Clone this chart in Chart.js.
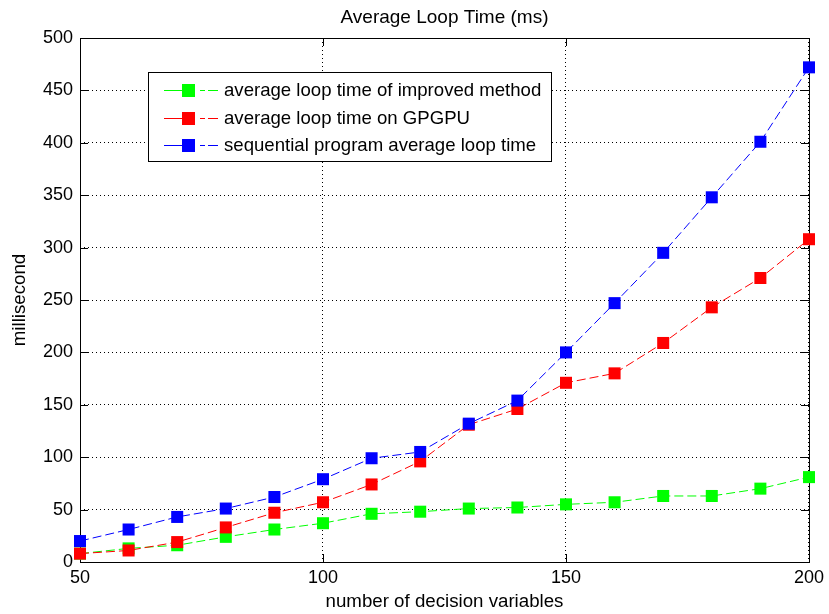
<!DOCTYPE html>
<html>
<head>
<meta charset="utf-8">
<script src="https://cdn.jsdelivr.net/npm/chart.js@4"></script>
<style>
  html, body { margin: 0; padding: 0; background: #fff; }
</style>
</head>
<body>
<canvas id="chart" width="829" height="614"></canvas>
<script>
// Data
const xValues = [50, 60, 70, 80, 90, 100, 110, 120, 130, 140, 150, 160, 170, 180, 190, 200];
const improvedTimes = [8, 13, 16, 24, 31, 37, 46, 48, 51, 52, 55, 57, 63, 63, 70, 81];
const gpgpuTimes = [8, 11, 19, 33, 47, 57, 74, 96, 131, 146, 171, 180, 209, 243, 271, 308];
const sequentialTimes = [20, 31, 43, 51, 62, 79, 99, 105, 132, 154, 200, 247, 295, 348, 401, 472];
const xTicks = [50, 100, 150, 200];
const yTicks = [0, 50, 100, 150, 200, 250, 300, 350, 400, 450, 500];

const FONT = '"Liberation Sans", Arial, sans-serif';
Chart.defaults.font.family = FONT;
Chart.defaults.font.size = 18;
Chart.defaults.color = '#000';

const toPoints = ys => ys.map((y, i) => ({ x: xValues[i], y }));

function series(label, ys, color, order) {
  return {
    label,
    data: toPoints(ys),
    borderColor: color,
    backgroundColor: color,
    pointBackgroundColor: color,
    pointBorderWidth: 0,
    pointStyle: 'rect',
    pointRadius: 8.5,
    borderWidth: 1,
    borderDash: [9, 4],
    tension: 0,
    clip: false,
    order,
  };
}

// ramecek + ticky dovnitr (matlab styl)
const frame = {
  id: 'frame',
  beforeDatasetsDraw(chart) {
    const { ctx, chartArea: a, scales } = chart;
    const len = 8;
    ctx.save();
    ctx.strokeStyle = '#000';
    ctx.lineWidth = 1;
    ctx.strokeRect(a.left + 0.5, a.top + 0.5, a.right - a.left, a.bottom - a.top);
    ctx.beginPath();
    scales.x.ticks.forEach(t => {
      const px = Math.round(scales.x.getPixelForValue(t.value)) + 0.5;
      ctx.moveTo(px, a.bottom); ctx.lineTo(px, a.bottom - len);
      ctx.moveTo(px, a.top); ctx.lineTo(px, a.top + len);
    });
    scales.y.ticks.forEach(t => {
      const py = Math.round(scales.y.getPixelForValue(t.value)) + 0.5;
      ctx.moveTo(a.left, py); ctx.lineTo(a.left + len, py);
      ctx.moveTo(a.right, py); ctx.lineTo(a.right - len, py);
    });
    ctx.stroke();
    ctx.restore();
  }
};

// legenda uvnitr grafu
const boxLegend = {
  id: 'boxLegend',
  afterDraw(chart) {
    const { ctx, chartArea: a } = chart;
    const x = a.left + 68, y = a.top + 34, w = 403, h = 89;
    ctx.save();
    ctx.fillStyle = '#fff';
    ctx.fillRect(x, y, w, h);
    ctx.strokeStyle = '#000';
    ctx.lineWidth = 1;
    ctx.strokeRect(x + 0.5, y + 0.5, w, h);
    ctx.font = '18.6px ' + FONT;
    ctx.textBaseline = 'middle';
    chart.data.datasets.forEach((ds, i) => {
      const cy = Math.round(y + 18 + i * 27.5) + 0.5;
      ctx.strokeStyle = ds.borderColor;
      ctx.setLineDash([26, 10, 5, 3, 10, 100]);
      ctx.beginPath();
      ctx.moveTo(x + 16, cy);
      ctx.lineTo(x + 71, cy);
      ctx.stroke();
      ctx.setLineDash([]);
      ctx.fillStyle = ds.pointBackgroundColor;
      ctx.fillRect(x + 34, cy - 6.5, 13, 13);
      ctx.fillStyle = '#000';
      ctx.fillText(ds.label, x + 76, cy);
    });
    ctx.restore();
  }
};

new Chart(document.getElementById('chart'), {
  type: 'line',
  data: {
    datasets: [
      series('average loop time of improved method', improvedTimes, '#00ff00', 3),
      series('average loop time on GPGPU', gpgpuTimes, '#ff0000', 2),
      series('sequential program average loop time', sequentialTimes, '#0000ff', 1),
    ],
  },
  options: {
    responsive: false,
    animation: false,
    events: [],
    layout: { padding: { top: 0, right: 17, bottom: 0, left: 0 } },
    plugins: {
      legend: { display: false },
      tooltip: { enabled: false },
      title: {
        display: true,
        text: 'Average Loop Time (ms)',
        fullSize: false,
        color: '#000',
        font: { size: 19, weight: 'normal' },
        padding: { top: 6, bottom: 9.2 },
      },
    },
    scales: {
      x: {
        type: 'linear',
        min: 50,
        max: 200,
        afterBuildTicks: s => { s.ticks = xTicks.map(v => ({ value: v })); },
        afterFit: s => { s.height = 52; },
        ticks: { padding: 5, maxRotation: 0, font: { size: 18 } },
        grid: { color: '#000', lineWidth: 1, drawTicks: false },
        border: { display: false, dash: [1, 3] },
        title: {
          display: true,
          text: 'number of decision variables',
          font: { size: 18.7 },
          padding: { top: 1, bottom: 1 },
        },
      },
      y: {
        min: 0,
        max: 500,
        afterBuildTicks: s => { s.ticks = yTicks.map(v => ({ value: v })); },
        afterFit: s => { s.width = 80; },
        ticks: { padding: 7, font: { size: 18 } },
        grid: { color: '#000', lineWidth: 1, drawTicks: false },
        border: { display: false, dash: [1, 3] },
        title: {
          display: true,
          text: 'millisecond',
          font: { size: 18.7 },
          padding: { top: 9, bottom: 9 },
        },
      },
    },
  },
  plugins: [frame, boxLegend],
});
</script>
</body>
</html>
